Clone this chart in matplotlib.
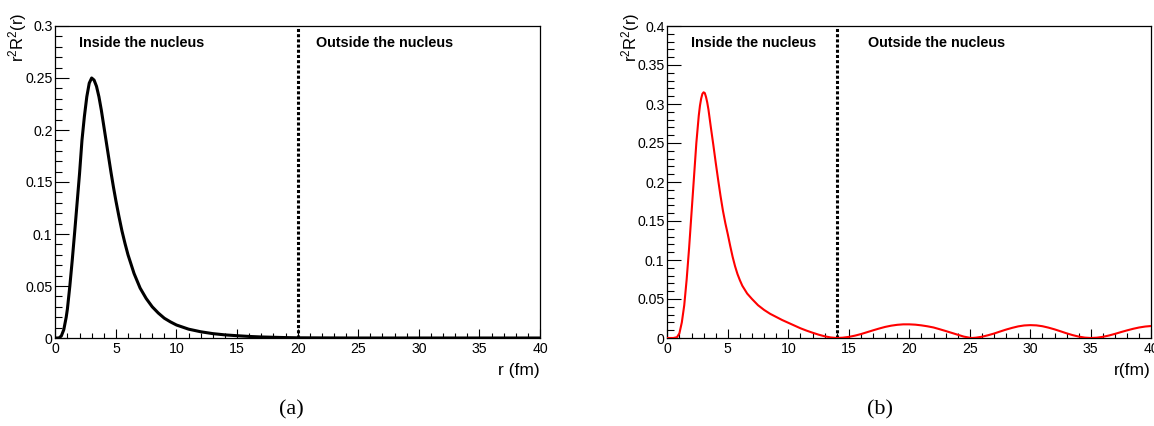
import matplotlib
matplotlib.use('Agg')
import matplotlib.pyplot as plt
from matplotlib.ticker import MultipleLocator, FormatStrFormatter

plt.rcParams['font.family'] = 'Liberation Sans'
plt.rcParams['mathtext.fontset'] = 'custom'
plt.rcParams['mathtext.rm'] = 'Liberation Sans'
plt.rcParams['mathtext.it'] = 'Liberation Sans:italic'
plt.rcParams['mathtext.bf'] = 'Liberation Sans:bold'
plt.rcParams['mathtext.default'] = 'regular'

# (a) bound state, r^2 R^2(r)
r_a = [0, 0.3, 0.5, 0.7, 0.9, 1.0, 1.2, 1.4, 1.6, 1.8, 2.0, 2.2, 2.4, 2.6,
       2.8, 3.0, 3.2, 3.4, 3.6, 3.8, 4.0, 4.2, 4.4, 4.6, 4.8, 5.0, 5.25, 5.5,
       5.75, 6.0, 6.5, 7.0, 7.5, 8.0, 8.5, 9.0, 9.5, 10, 11, 12, 13, 14, 15,
       16, 17, 18, 19, 20, 22, 25, 40]
y_a = [0, 0, 0.002, 0.008, 0.02, 0.028, 0.05, 0.075, 0.102, 0.13, 0.158,
       0.19, 0.213, 0.232, 0.245, 0.25, 0.248, 0.242, 0.232, 0.219, 0.204,
       0.189, 0.174, 0.159, 0.145, 0.132, 0.117, 0.103, 0.091, 0.08, 0.062,
       0.048, 0.038, 0.03, 0.024, 0.019, 0.0155, 0.0125, 0.0085, 0.006,
       0.0042, 0.003, 0.0022, 0.0015, 0.001, 0.0007, 0.0004, 0.0002, 0.0001,
       0.0, 0.0]

# (b) resonance-like state
r_b = [0, 0.5, 0.8, 1.0, 1.2, 1.4, 1.6, 1.8, 2.0, 2.2, 2.4, 2.6, 2.7, 2.8,
       2.9, 3.0, 3.1, 3.2, 3.3, 3.4, 3.6, 3.8, 4.0, 4.2, 4.4, 4.6, 4.8, 5.0,
       5.2, 5.4, 5.6, 5.8, 6.0, 6.2, 6.6, 7.0, 7.5, 8.0, 8.5, 9.0, 9.5, 10,
       10.5, 11, 11.5, 12, 12.5, 13, 13.5, 14,
       14.5, 15, 15.5, 16, 16.5, 17, 17.5, 18, 18.5, 19, 19.5, 20, 20.5, 21,
       21.5, 22, 22.5, 23, 23.5, 24, 24.5, 25, 25.2,
       25.5, 26, 26.5, 27, 27.5, 28, 28.5, 29, 29.5, 30, 30.5, 31, 31.5, 32,
       32.5, 33, 33.5, 34, 34.5, 35,
       35.5, 36, 36.5, 37, 37.5, 38, 38.5, 39, 39.5, 40]
y_b = [0, 0, 0.001, 0.006, 0.02, 0.042, 0.075, 0.115, 0.16, 0.205, 0.25,
       0.285, 0.298, 0.307, 0.313, 0.315, 0.314, 0.309, 0.302, 0.293, 0.27,
       0.248, 0.225, 0.203, 0.182, 0.163, 0.147, 0.133, 0.118, 0.104, 0.092,
       0.082, 0.074, 0.067, 0.057, 0.05, 0.042, 0.036, 0.031, 0.027, 0.023,
       0.0195, 0.016, 0.0125, 0.0095, 0.0068, 0.0043, 0.0022, 0.0007, 0.0,
       0.0004, 0.0014, 0.003, 0.005, 0.0074, 0.0098, 0.0121, 0.0142, 0.0158,
       0.0169, 0.0175, 0.0175, 0.0171, 0.0162, 0.015, 0.0135, 0.0113, 0.009,
       0.0066, 0.0042, 0.0018, 0.0003, 0.0,
       0.0004, 0.0016, 0.0035, 0.0057, 0.0083, 0.0108, 0.013, 0.0149, 0.0161,
       0.0165, 0.0162, 0.0151, 0.0133, 0.0111, 0.0086, 0.006, 0.0037, 0.0018,
       0.0005, 0.0,
       0.0004, 0.0015, 0.0032, 0.0053, 0.0076, 0.0098, 0.0118, 0.0135,
       0.0147, 0.0154]

edge_a = 20
edge_b = 14
ymax_a = 0.3
ymax_b = 0.4

W, H = 1154, 426
fig = plt.figure(figsize=(W / 100, H / 100), dpi=100)


def setup(ax, ymax):
    ax.set_xlim(0, 40)
    ax.set_ylim(0, ymax)
    ax.xaxis.set_major_locator(MultipleLocator(5))
    ax.xaxis.set_minor_locator(MultipleLocator(1))
    ax.yaxis.set_major_locator(MultipleLocator(0.05))
    ax.yaxis.set_minor_locator(MultipleLocator(0.01))
    ax.yaxis.set_major_formatter(FormatStrFormatter('%g'))
    ax.tick_params(axis='x', which='major', direction='in', length=6.8,
                   width=0.8, pad=3, labelsize=10.2)
    ax.tick_params(axis='x', which='minor', direction='in', length=3.4,
                   width=0.8)
    ax.tick_params(axis='y', which='major', direction='in', length=10.4,
                   width=0.8, pad=2, labelsize=10.2)
    ax.tick_params(axis='y', which='minor', direction='in', length=5.2,
                   width=0.8)
    for s in ax.spines.values():
        s.set_linewidth(0.9)


# left panel
ax1 = fig.add_axes([55.3 / W, 88 / H, 484.7 / W, 312 / H])
setup(ax1, ymax_a)
ax1.plot(r_a, y_a, color='black', lw=2.2, zorder=3)
ax1.plot([edge_a, edge_a], [0, ymax_a], color='black', lw=2.2,
         linestyle=(0, (1, 0.7)), zorder=2)
ax1.text(1.96, 0.2835, 'Inside the nucleus', fontsize=10.4,
         fontweight='bold', va='center', ha='left')
ax1.text(21.5, 0.2835, 'Outside the nucleus', fontsize=10.4,
         fontweight='bold', va='center', ha='left')
fig.text(17.5 / W, 1 - 13 / H, r'r$^{2}$R$^{2}$(r)', rotation=90,
         ha='center', va='top', fontsize=12)
fig.text(539.5 / W, 1 - 370 / H, 'r (fm)', ha='right', va='center',
         fontsize=12.5)
fig.text(291.5 / W, 1 - 410 / H, '(a)', ha='center', va='center',
         fontsize=16, family='Liberation Serif')

# right panel
ax2 = fig.add_axes([667.3 / W, 88 / H, 484 / W, 312 / H])
setup(ax2, ymax_b)
ax2.plot(r_b, y_b, color='red', lw=1.5, zorder=3)
ax2.plot([edge_b, edge_b], [0, ymax_b], color='black', lw=2.2,
         linestyle=(0, (1, 0.7)), zorder=2)
ax2.text(1.93, 0.378, 'Inside the nucleus', fontsize=10.4,
         fontweight='bold', va='center', ha='left')
ax2.text(16.6, 0.378, 'Outside the nucleus', fontsize=10.4,
         fontweight='bold', va='center', ha='left')
fig.text(631 / W, 1 - 13 / H, r'r$^{2}$R$^{2}$(r)', rotation=90,
         ha='center', va='top', fontsize=12)
fig.text(1151 / W, 1 - 370 / H, 'r(fm)', ha='right', va='center',
         fontsize=12.5)
fig.text(880 / W, 1 - 410 / H, '(b)', ha='center', va='center',
         fontsize=16, family='Liberation Serif')

fig.savefig('out.png', dpi=100)
